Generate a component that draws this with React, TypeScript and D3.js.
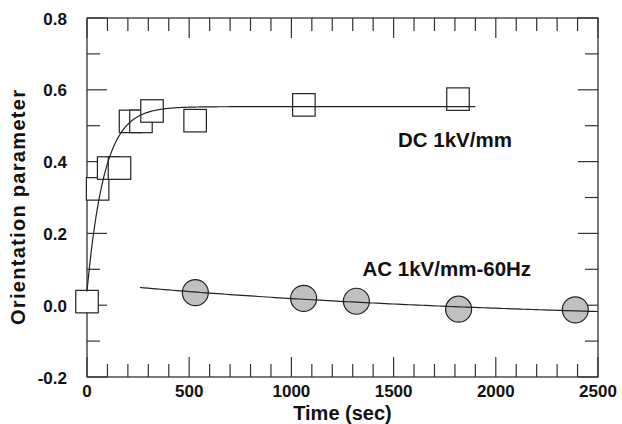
import React from "react";
import * as d3 from "d3";

// Measured orientation parameter, DC field 1 kV/mm
const dcTime = [0, 52, 106, 159, 213, 264, 318, 529, 1061, 1815];
const dcValue = [0.01, 0.324, 0.382, 0.382, 0.512, 0.512, 0.541, 0.514, 0.558, 0.574];

// Measured orientation parameter, AC field 1 kV/mm at 60 Hz
const acTime = [530, 1060, 1318, 1818, 2389];
const acValue = [0.035, 0.019, 0.011, -0.011, -0.013];

// Fitted curves: v(t) = base + amp * (1 - exp(-t / tau)) and base + amp * exp(-t / tau)
const dcFit = { base: 0.038, amp: 0.515, tau: 85, tStart: 0, tEnd: 1900 };
const acFit = { base: -0.05, amp: 0.113, tau: 2000, tStart: 259, tEnd: 2500 };

const xTicks = [0, 500, 1000, 1500, 2000, 2500];
const yTicks = [-0.2, 0, 0.2, 0.4, 0.6, 0.8];

const W = 622;
const H = 424;
const X0 = 87, X1 = 598, Y0 = 377, Y1 = 18;
const INK = "#222";
const FONT = "'Liberation Sans', Arial, Helvetica, sans-serif";

// plain hyphen for negative numbers
const fmtY = (v: number) => d3.format(".1f")(v).replace("\u2212", "-");

export default function App() {
  const x = d3.scaleLinear().domain([0, 2500]).range([X0, X1]);
  const y = d3.scaleLinear().domain([-0.2, 0.8]).range([Y0, Y1]);

  const xMinor = d3.range(0, 2501, 100).filter((v) => v % 500 !== 0);
  const yMinor = d3.range(-0.1, 0.8, 0.2);

  const line = d3
    .line<[number, number]>()
    .x((d) => x(d[0]))
    .y((d) => y(d[1]))
    .curve(d3.curveLinear);

  const dcCurve: [number, number][] = d3
    .range(dcFit.tStart, dcFit.tEnd + 1, 4)
    .map((t) => [t, dcFit.base + dcFit.amp * (1 - Math.exp(-t / dcFit.tau))]);
  const acCurve: [number, number][] = d3
    .range(acFit.tStart, acFit.tEnd + 1, 20)
    .map((t) => [t, acFit.base + acFit.amp * Math.exp(-t / acFit.tau)]);

  const MAJ = 20, MIN = 13;
  const sq = 22.5;
  const r = 13;

  return (
    <svg
      width={W}
      height={H}
      style={{ position: "absolute", left: 0, top: 0, background: "#fff" }}
      fontFamily={FONT}
    >
      <rect width={W} height={H} fill="#fff" />
      {/* frame */}
      <rect x={X0} y={Y1} width={X1 - X0} height={Y0 - Y1} fill="none" stroke="#333" strokeWidth={1.3} />
      {/* ticks on all four sides, pointing inward */}
      <g stroke="#333" strokeWidth={1.2}>
        {xTicks.map((v) => (
          <g key={"xm" + v}>
            <line x1={x(v)} x2={x(v)} y1={Y0} y2={Y0 - MAJ} />
            <line x1={x(v)} x2={x(v)} y1={Y1} y2={Y1 + MAJ} />
          </g>
        ))}
        {xMinor.map((v) => (
          <g key={"xn" + v}>
            <line x1={x(v)} x2={x(v)} y1={Y0} y2={Y0 - MIN} />
            <line x1={x(v)} x2={x(v)} y1={Y1} y2={Y1 + MIN} />
          </g>
        ))}
        {yTicks.map((v) => (
          <g key={"ym" + v}>
            <line x1={X0} x2={X0 + MAJ} y1={y(v)} y2={y(v)} />
            <line x1={X1} x2={X1 - MAJ} y1={y(v)} y2={y(v)} />
          </g>
        ))}
        {yMinor.map((v) => (
          <g key={"yn" + v}>
            <line x1={X0} x2={X0 + MIN} y1={y(v)} y2={y(v)} />
            <line x1={X1} x2={X1 - MIN} y1={y(v)} y2={y(v)} />
          </g>
        ))}
      </g>
      {/* tick labels */}
      <g fontSize={17} fontWeight="bold" fill="#111">
        {xTicks.map((v) => (
          <text key={"xl" + v} x={x(v)} y={396.5} textAnchor="middle">
            {d3.format("d")(v)}
          </text>
        ))}
        {yTicks.map((v) => (
          <text key={"yl" + v} x={67} y={y(v) + 6.5} textAnchor="end">
            {fmtY(v)}
          </text>
        ))}
      </g>
      {/* axis titles */}
      <text x={(X0 + X1) / 2} y={420} textAnchor="middle" fontSize={20} fontWeight="bold" fill="#111">
        Time (sec)
      </text>
      <text
        transform={`translate(25,207.5) rotate(-90)`}
        textAnchor="middle"
        fontSize={20}
        fontWeight="bold"
        fill="#111"
        textLength={235}
        lengthAdjust="spacing"
      >
        Orientation parameter
      </text>
      {/* DC markers */}
      <g fill="#fff" stroke={INK} strokeWidth={1.2}>
        {dcTime.map((t, i) => (
          <rect key={"dc" + i} x={x(t) - sq / 2} y={y(dcValue[i]) - sq / 2} width={sq} height={sq} />
        ))}
      </g>
      {/* AC markers */}
      <g fill="#c0c0c2" stroke={INK} strokeWidth={1.2}>
        {acTime.map((t, i) => (
          <circle key={"ac" + i} cx={x(t)} cy={y(acValue[i])} r={r} />
        ))}
      </g>
      {/* fitted curves */}
      <path d={line(dcCurve) ?? ""} fill="none" stroke={INK} strokeWidth={1.2} />
      <path d={line(acCurve) ?? ""} fill="none" stroke={INK} strokeWidth={1.2} />
      {/* series labels */}
      <text x={398} y={147.3} fontSize={20.5} fontWeight="bold" fill="#111">
        DC 1kV/mm
      </text>
      <text x={362.5} y={276} fontSize={20.5} fontWeight="bold" fill="#111">
        AC 1kV/mm-60Hz
      </text>
    </svg>
  );
}
